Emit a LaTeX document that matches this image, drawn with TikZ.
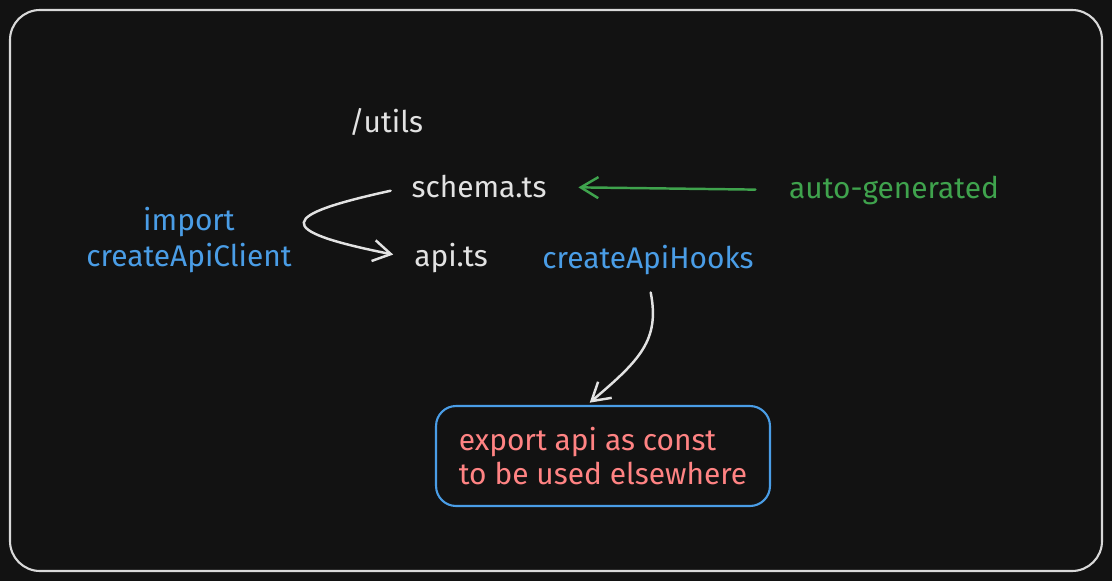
\documentclass[tikz,border=0pt]{standalone}
\usepackage{fontspec}
\setmainfont{Fira Sans}
\usetikzlibrary{arrows.meta,positioning}
\definecolor{bgdark}{HTML}{121212}
\definecolor{framegray}{HTML}{D9D9D9}
\definecolor{txtwhite}{HTML}{E2E2E2}
\definecolor{exblue}{HTML}{4A9DE6}
\definecolor{exgreen}{HTML}{3FA34D}
\definecolor{exred}{HTML}{FF8383}
\def\hand{\fontsize{17}{19}\selectfont}
\tikzstyle{lbl} = [text=txtwhite, font=\hand, inner sep=2pt]
\tikzstyle{bluelbl} = [lbl, text=exblue, align=center]
\tikzstyle{outbox} = [draw=exblue, line width=1.2pt, rounded corners=0.4cm, minimum width=6.68cm, minimum height=2cm, text=exred, font=\hand, align=left]
\tikzstyle{wline} = [txtwhite, line width=1.4pt, line cap=round, -{Straight Barb[length=10pt,width=12pt]}]
\tikzstyle{gline} = [wline, exgreen]

\begin{document}
\begin{tikzpicture}[x=0.02cm, y=-0.02cm]
      \fill[bgdark] (0,0) rectangle (1112,581);
      \draw[framegray, line width=1.2pt, rounded corners=0.6cm] (10,10) rectangle (1102,571);
      \node[lbl] (utils) at (386,122) {/utils};
      \node[lbl] (schema) at (479,187) {schema.ts};
      \node[lbl] (api) at (451,258) {api.ts};
      \node[bluelbl] (hooks) at (648,260) {createApiHooks};
      \node[bluelbl] (client) at (189,240) {import\\[2pt]createApiClient};
      \node[lbl, text=exgreen] (auto) at (894,190) {auto-generated};
      \node[outbox] (box) at (603,456) {export api as const\\to be used elsewhere};
      %\draw (0,0) grid (1112,581);
      \draw[wline, shorten <=10pt, shorten >=10pt] (schema.west) .. controls (280,215) and (270,230) .. (api.west);
      \draw[gline, shorten <=17pt, shorten >=16pt] (auto.west) -- (schema.east);
      \draw[wline, shorten <=8pt, shorten >=2pt] (hooks.south) .. controls (660,340) and (640,360) .. ([xshift=-0.32cm]box.north);
      \end{tikzpicture}
\end{document}
